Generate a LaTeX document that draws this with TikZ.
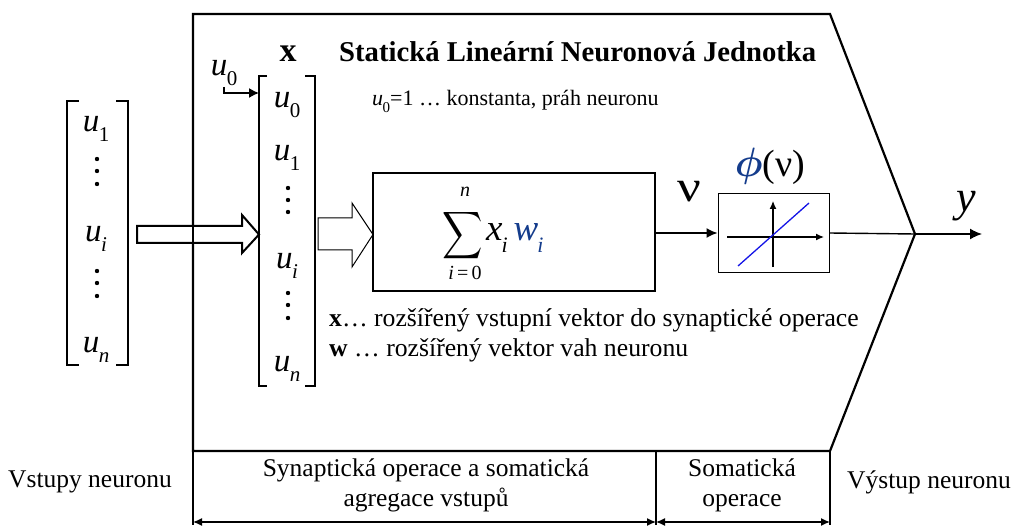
\documentclass[tikz,border=0pt]{standalone}
\usepackage{amsmath}
\usepackage{fontspec}
\setmainfont{Liberation Serif}
\usetikzlibrary{arrows.meta}
\definecolor{nblue}{RGB}{20,60,140}
\definecolor{lblue}{RGB}{20,20,230}
\newcommand{\uu}[1]{\textit{u}\kern-0.5pt\raisebox{-0.32em}{\fontsize{21}{21}\selectfont #1}}
\begin{document}
\begin{tikzpicture}[x=1pt,y=-1pt,
  thickline/.style={line width=2.2pt},
  brk/.style={line width=1.3pt},
  entry/.style={inner sep=0pt,font=\fontsize{33}{33}\selectfont},
  lbl/.style={inner sep=0pt,font=\fontsize{25.5}{30}\selectfont,align=center},
  vdot/.style={circle,fill=black,inner sep=0pt,minimum size=4.4pt},
  blockbox/.style={draw,line width=2pt,inner sep=0pt},
  hollow/.style={draw,fill=white,line join=miter}]
\useasboundingbox (0,0) rectangle (1011,529);

% main body polygon
\coordinate (tl) at (193,14);
\coordinate (tr) at (830,14);
\coordinate (tip) at (915,234);
\coordinate (br) at (830,451);
\coordinate (bl) at (193,451);
\draw[thickline,line join=miter] (tl) -- (tr) -- (tip) -- (br) -- (bl) -- cycle;

% bottom section lines
\coordinate (b1) at (193,525);
\coordinate (m0) at (656,451);
\coordinate (m1) at (656,525);
\coordinate (b2) at (830,525);
\draw[line width=1.6pt] (bl) -- (b1);
\draw[line width=1.6pt] (m0) -- (m1);
\draw[line width=1.6pt] (br) -- (b2);
\coordinate (a1l) at (193,522);
\coordinate (a1r) at (656,522);
\coordinate (a2l) at (656,522);
\coordinate (a2r) at (830,522);
\draw[line width=1.4pt,{Latex[length=9pt,width=8pt]}-{Latex[length=9pt,width=8pt]}] (a1l) -- (a1r);
\draw[line width=1.4pt,{Latex[length=9pt,width=8pt]}-{Latex[length=9pt,width=8pt]}] (a2l) -- (a2r);

% bottom labels
\node[lbl] (vin) at (90,482) {Vstupy neuronu};
\node[lbl] (syn) at (426,485) {Synaptická operace a somatická\\agregace vstupů};
\node[lbl] (som) at (742,485) {Somatická\\operace};
\node[lbl] (vout) at (929,482) {Výstup neuronu};

% left input vector
\draw[brk] (79,101) -- (67,101) -- (67,365) -- (79,365);
\draw[brk] (116,101) -- (128,101) -- (128,365) -- (116,365);
\node[entry] (l1) at (96,129) {\uu{1}};
\node[vdot] (ld1) at (97,159) {};
\node[vdot] (ld2) at (97,171) {};
\node[vdot] (ld3) at (97,184) {};
\node[entry] (li) at (96,239) {\uu{\textit{i}}};
\node[vdot] (ld4) at (97,271) {};
\node[vdot] (ld5) at (97,283) {};
\node[vdot] (ld6) at (97,296) {};
\node[entry] (ln) at (96,350) {\uu{\textit{n}}};

% big hollow arrow
\draw[hollow,line width=2pt] (137,226) -- (242,226) -- (242,215) -- (259,234.5) -- (242,253) -- (242,243) -- (137,243) -- cycle;
\draw[thickline] (193,215) -- (193,254);

% x vector
\draw[brk] (267,76) -- (259,76) -- (259,386) -- (267,386);
\draw[brk] (305,76) -- (315,76) -- (315,386) -- (305,386);
\node[inner sep=0pt,font=\fontsize{34}{34}\selectfont\bfseries] (xlab) at (288,54) {x};
\node[entry] (x0) at (287,105) {\uu{0}};
\node[entry] (x1) at (287,158) {\uu{1}};
\node[vdot] (xd1) at (288,188) {};
\node[vdot] (xd2) at (288,200) {};
\node[vdot] (xd3) at (288,212) {};
\node[entry] (xi) at (287,266) {\uu{\textit{i}}};
\node[vdot] (xd4) at (288,293) {};
\node[vdot] (xd5) at (288,305) {};
\node[vdot] (xd6) at (288,318) {};
\node[entry] (xn) at (287,369) {\uu{\textit{n}}};

% u0 input
\node[entry] (u0in) at (224,73) {\uu{0}};
\coordinate (hk) at (224,87);
\coordinate (hk2) at (224,93);
\coordinate (x0in) at (259,93);
\draw[line width=1.4pt,-{Latex[length=10pt,width=10pt]}] (hk) -- (hk2) -- (x0in);

% title and notes
\node[inner sep=0pt,anchor=west,font=\fontsize{28.7}{30}\selectfont\bfseries] (title) at (339,52) {Statická Lineární Neuronová Jednotka};
\node[inner sep=0pt,anchor=west,font=\fontsize{22}{24}\selectfont] (note) at (372,101) {\textit{u}\kern-0.5pt\raisebox{-0.32em}{\fontsize{15}{15}\selectfont 0}=1 … konstanta, práh neuronu};
\node[inner sep=0pt,anchor=west,font=\fontsize{25.7}{28}\selectfont] (xnote) at (329,320) {\textbf{x}… rozšířený vstupní vektor do synaptické operace};
\node[inner sep=0pt,anchor=west,font=\fontsize{25.7}{28}\selectfont] (wnote) at (329,350) {\textbf{w} … rozšířený vektor vah neuronu};

% second hollow arrow
\draw[hollow,line width=1pt] (318,218) -- (352,218) -- (352,203) -- (373,234.5) -- (352,267) -- (352,250) -- (318,250) -- cycle;

% sum box
\node[blockbox,minimum width=282pt,minimum height=118pt] (sum) at (514,232) {};
\node[inner sep=0pt] (sigma) at (463,236) {\scalebox{2.8}[3.3]{$\displaystyle\sum$}};
\node[inner sep=0pt,font=\fontsize{20}{20}\selectfont\itshape] (supn) at (465,192) {n};
\node[inner sep=0pt,font=\fontsize{20}{20}\selectfont] (subi) at (465,273) {\textit{i}\,=\,0};
\node[inner sep=0pt,anchor=west,font=\fontsize{37}{37}\selectfont] (xw) at (486,238) {\textit{x}\kern-1pt\raisebox{-0.3em}{\fontsize{22}{22}\selectfont\textit{i}}\kern6pt\textcolor{nblue}{\textit{w}\kern-1pt\raisebox{-0.3em}{\fontsize{22}{22}\selectfont\textit{i}}}};

% phi box
\node[draw,line width=1pt,minimum width=111pt,minimum height=79pt,inner sep=0pt] (phi) at (773.5,233) {};
\coordinate (hx0) at (727,237);
\coordinate (hx1) at (824,237);
\coordinate (vy0) at (773,267);
\coordinate (vy1) at (773,201);
\draw[line width=1.2pt,-{Latex[length=8pt,width=7pt]}] (hx0) -- (hx1);
\draw[line width=1.2pt,-{Latex[length=8pt,width=7pt]}] (vy0) -- (vy1);
\coordinate (bl0) at (738,266);
\coordinate (bl1) at (809,203);
\draw[lblue,line width=1.3pt] (bl0) -- (bl1);
\node[inner sep=0pt] (philab) at (770,166) {\textcolor{nblue}{\scalebox{3.9}[4.1]{$\boldsymbol{\phi}$}}\fontsize{38}{38}\selectfont(ν)};

% signal connectors
\draw[line width=1.4pt,-{Latex[length=11pt,width=10pt]}] (sum.east |- phi.west) -- (phi.west);
\node[inner sep=0pt,font=\fontsize{42}{42}\selectfont] (nu) at (689,192) {\scalebox{1.25}[1.05]{ν}};
\draw[line width=1.4pt] (phi.east) -- (tip);
\coordinate (yend) at (982,234);
\draw[line width=1.4pt,-{Latex[length=12pt,width=11pt]}] (tip) -- (yend);
\node[inner sep=0pt,font=\fontsize{44}{44}\selectfont\itshape] (ylab) at (966,206) {y};
\end{tikzpicture}
\end{document}
